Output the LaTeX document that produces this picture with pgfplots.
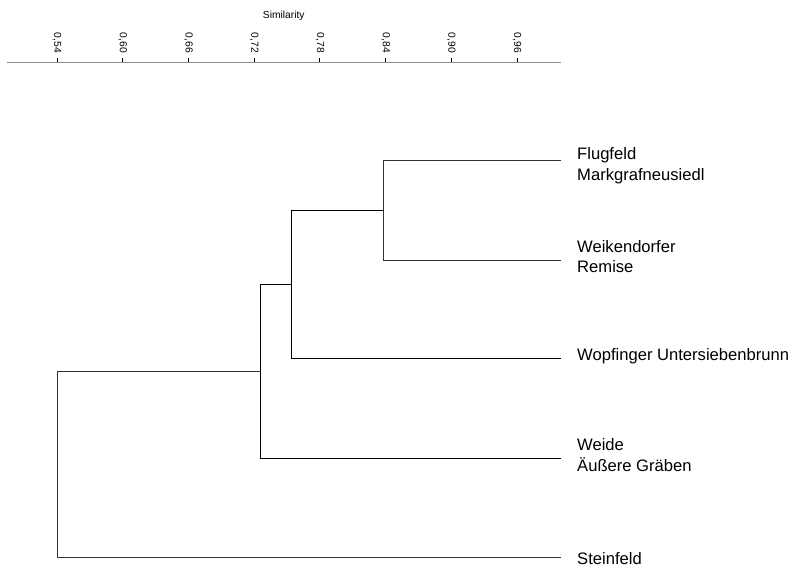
\documentclass[border=0pt]{standalone}
\usepackage{fontspec}
\setmainfont{Liberation Sans}
\usepackage{pgfplots}
\pgfplotsset{compat=1.18}

\begin{document}
\begin{tikzpicture}
\begin{axis}[
    scale only axis,
    width=415.7pt, height=371pt,
    xmin=0.494, xmax=1.0,
    ymin=0, ymax=4.993,
    axis line style={draw=none},
    ytick=\empty,
    xtick={0.54,0.60,0.66,0.72,0.78,0.84,0.90,0.96},
    xtick pos=right,
    xticklabel pos=right,
    xtick align=outside,
    major tick length=3.5pt,
    xtick style={draw=black, line width=0.75pt},
    xticklabel style={rotate=-90, anchor=east, font=\fontsize{7.7}{9}\selectfont},
    /pgf/number format/.cd, fixed, fixed zerofill, precision=2, use comma, assume math mode=true,
    /pgfplots/.cd,
    xlabel={Similarity},
    xlabel style={at={(axis description cs:0.5,1)}, anchor=base, yshift=32.5pt,
                  font=\fontsize{7.7}{9}\selectfont},
    clip=false,
    cycle list={{black!80, line width=0.75pt, mark=none}},
]
% similarity axis line at the top
\draw[black!45, line width=0.6pt] (rel axis cs:0,1) -- (rel axis cs:1,1);

% tick marks on the similarity axis
\addplot[draw=none, mark=none, forget plot,
    error bars/.cd, y dir=plus, y explicit, error mark=none,
    error bar style={draw=black, line width=0.75pt}]
coordinates {
(0.54,4.993) +- (0,0.047) (0.60,4.993) +- (0,0.047)
(0.66,4.993) +- (0,0.047) (0.72,4.993) +- (0,0.047)
(0.78,4.993) +- (0,0.047) (0.84,4.993) +- (0,0.047)
(0.90,4.993) +- (0,0.047) (0.96,4.993) +- (0,0.047)
};

% dendrogram branches (similarity, leaf position)
\addplot coordinates {(1,4) (0.8374,4) (0.8374,3) (1,3)};
\addplot coordinates {(0.8374,3.5) (0.7539,3.5) (0.7539,2) (1,2)};
\addplot coordinates {(0.7539,2.75) (0.7252,2.75) (0.7252,1) (1,1)};
\addplot coordinates {(0.7252,1.875) (0.54,1.875) (0.54,0) (1,0)};

% leaf labels
\begin{scope}[every node/.style={anchor=base west, inner sep=0pt, xshift=12pt,
              font=\fontsize{12.45}{15}\selectfont}]
\node[yshift=1pt]    at (axis cs:1,4) {Flugfeld};
\node[yshift=-14.5pt] at (axis cs:1,4) {Markgrafneusiedl};
\node[yshift=5.8pt]  at (axis cs:1,3) {Weikendorfer};
\node[yshift=-9.2pt] at (axis cs:1,3) {Remise};
\node[yshift=-1.3pt] at (axis cs:1,2) {Wopfinger Untersiebenbrunn};
\node[yshift=5.5pt]  at (axis cs:1,1) {Weide};
\node[yshift=-10pt]  at (axis cs:1,1) {Äußere Gräben};
\node[yshift=-6pt]   at (axis cs:1,0) {Steinfeld};
\end{scope}
\end{axis}
\pgfresetboundingbox
\path (-5pt,-9.75pt) rectangle (592pt,417.75pt);
\end{tikzpicture}
\end{document}
